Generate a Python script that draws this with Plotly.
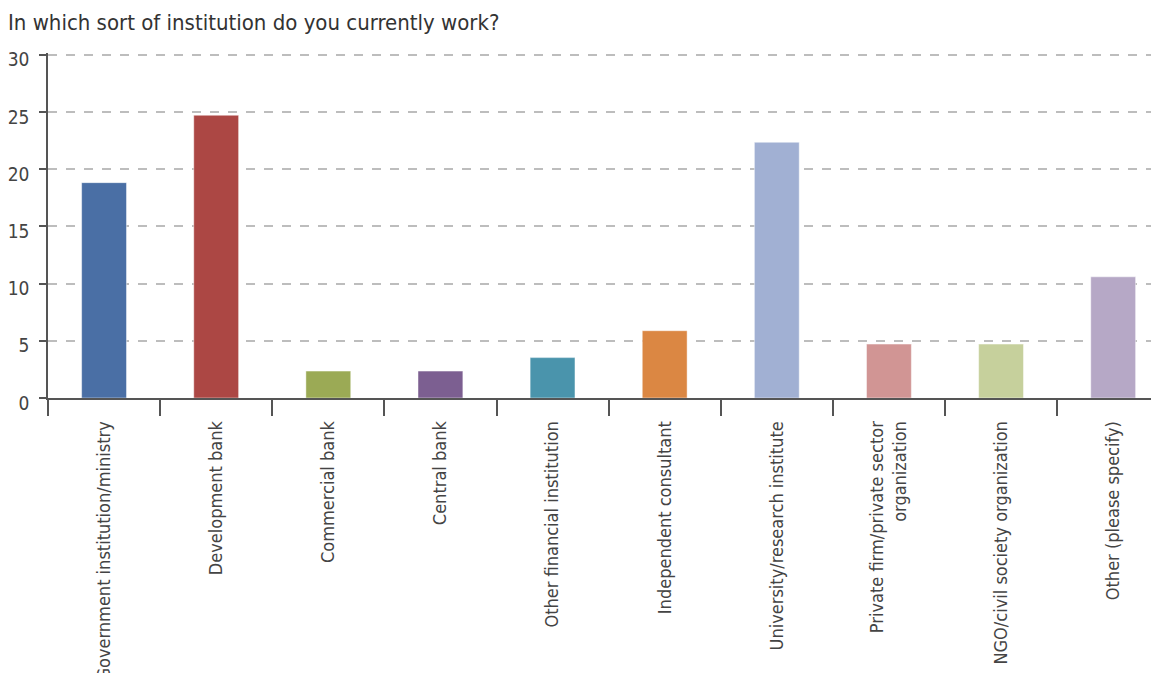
import plotly.graph_objects as go

categories = [
    "Government institution/ministry",
    "Development bank",
    "Commercial bank",
    "Central bank",
    "Other financial institution",
    "Independent consultant",
    "University/research institute",
    "Private firm/private sector<br>organization",
    "NGO/civil society organization",
    "Other (please specify)",
]
values = [18.82, 24.71, 2.35, 2.35, 3.53, 5.88, 22.35, 4.71, 4.71, 10.59]
colors = ["#4A6FA5", "#AC4744", "#9BAA55", "#7C5F91", "#4A94AC",
          "#DB8743", "#A1B0D3", "#D19594", "#C6D09C", "#B6A8C6"]
y_ticks = [0, 5, 10, 15, 20, 25, 30]
title_text = "In which sort of institution do you currently work?"

FONT = "DejaVu Sans Condensed, Liberation Sans Narrow, sans-serif"

fig = go.Figure(go.Bar(
    x=categories, y=values, width=0.4,
    marker=dict(color=colors, line=dict(color="rgba(255,255,255,0.45)", width=1)),
))

fig.update_layout(
    width=1159, height=673,
    margin=dict(l=40, r=0, t=45, b=283, autoexpand=False),
    paper_bgcolor="white", plot_bgcolor="white",
    showlegend=False,
    font=dict(family=FONT, color="#444"),
    title=dict(text=title_text, x=0, xref="container", xanchor="left", y=0.979, yanchor="middle",
               font=dict(family=FONT, size=22, color="#333")),
    bargap=0.6,
)
fig.update_xaxes(
    range=[-0.5, 9.48], tickangle=-90, tickson="boundaries",
    ticks="outside", ticklen=16, tickwidth=1.5, tickcolor="#555",
    showline=True, linecolor="#555", linewidth=2,
    showgrid=False, tickfont=dict(size=18, color="#444"),
    ticklabelstandoff=14, automargin=False,
)
fig.update_yaxes(
    range=[0, 30.15], tickvals=y_ticks,
    ticks="outside", ticklen=7, tickwidth=1.5, tickcolor="#555",
    showline=True, linecolor="#555", linewidth=1.5,
    showgrid=True, gridcolor="#BDBDBD", griddash="dash", gridwidth=1.5,
    zeroline=False, tickfont=dict(size=19, color="#444"),
    ticklabelstandoff=6, ticklabelshift=5, automargin=False,
)

fig.write_html("out.html")
